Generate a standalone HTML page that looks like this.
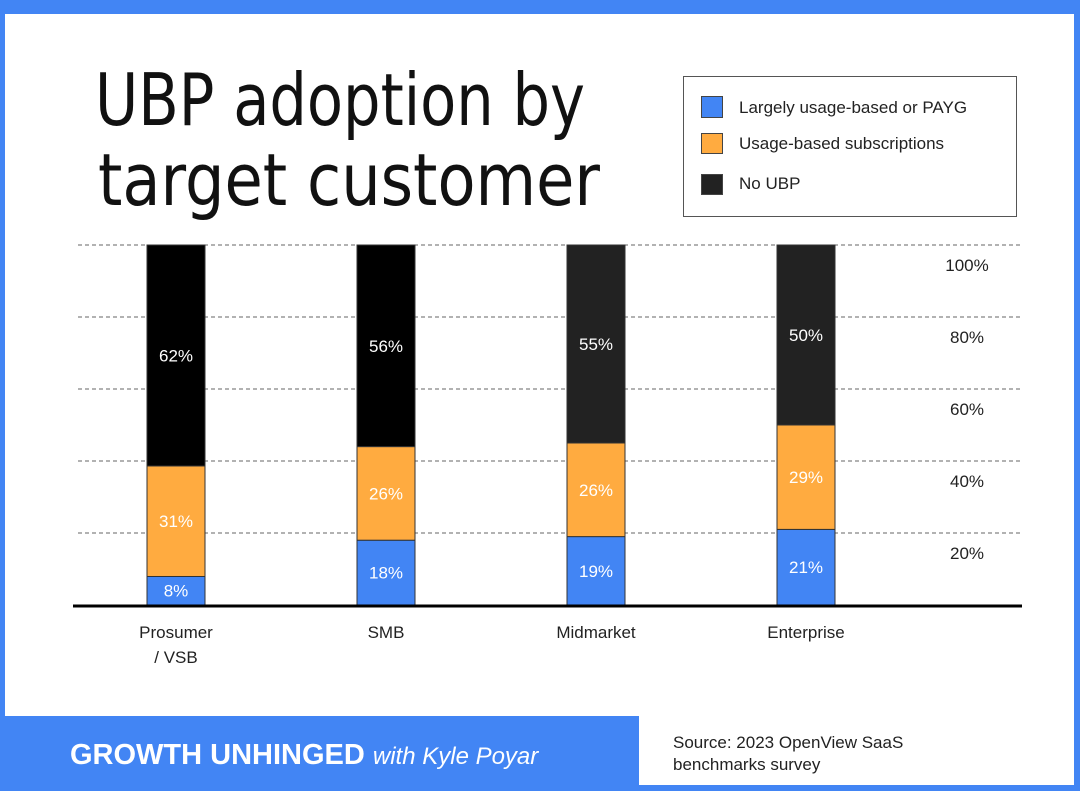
<!DOCTYPE html>
<html><head><meta charset="utf-8"><style>
body{margin:0;width:1080px;height:791px;overflow:hidden;font-family:"Liberation Sans",sans-serif;}
</style></head><body>
<svg width="1080" height="791" xmlns="http://www.w3.org/2000/svg">
<rect x="0" y="0" width="1080" height="791" fill="#4285f4"/>
<rect x="5" y="14" width="1069" height="702" fill="#fff"/>
<rect x="639" y="716" width="435" height="69" fill="#fff"/>
<text x="95" y="125" font-size="72" fill="#111" textLength="490" lengthAdjust="spacingAndGlyphs" style="font-family:'DejaVu Sans',sans-serif">UBP adoption by</text>
<text x="98" y="205" font-size="72" fill="#111" textLength="502" lengthAdjust="spacingAndGlyphs" style="font-family:'DejaVu Sans',sans-serif">target customer</text>
<g>
<rect x="683.5" y="76.5" width="333" height="140" fill="#fff" stroke="#555"/>
<rect x="701.5" y="96.5" width="21" height="21" fill="#4285f4" stroke="#444"/>
<text x="739" y="113" font-size="17" fill="#222">Largely usage-based or PAYG</text>
<rect x="701.5" y="133.5" width="21" height="20" fill="#ffab40" stroke="#444"/>
<text x="739" y="149" font-size="17" fill="#222">Usage-based subscriptions</text>
<rect x="701.5" y="174.5" width="21" height="20" fill="#222" stroke="#444"/>
<text x="739" y="189" font-size="17" fill="#222">No UBP</text>
</g>
<g id="plot"></g>
<rect x="5" y="716" width="634" height="75" fill="#4285f4"/>
<text x="70" y="764" font-size="29" font-weight="bold" fill="#fff">GROWTH UNHINGED <tspan font-size="24" font-weight="normal" font-style="italic">with Kyle Poyar</tspan></text>
<text x="673" y="748" font-size="17" fill="#222">Source: 2023 OpenView SaaS</text>
<text x="673" y="770" font-size="17" fill="#222">benchmarks survey</text>
</svg>
<script>
const categories = ["Prosumer\n/ VSB", "SMB", "Midmarket", "Enterprise"];
const payg = [8, 18, 19, 21];
const subs = [31, 26, 26, 29];
const noUbp = [62, 56, 55, 50];
const ticks = [20, 40, 60, 80, 100];
const ticksLabels = ["20%", "40%", "60%", "80%", "100%"];

const NS = "http://www.w3.org/2000/svg";
const g = document.getElementById("plot");
const y0 = 605, yTop = 245;
const yScale = v => y0 - (v / 100) * (y0 - yTop);
const xScale = i => 176 + i * 210;
function mk(tag, attrs) { const e = document.createElementNS(NS, tag); for (const k in attrs) e.setAttribute(k, attrs[k]); g.appendChild(e); return e; }

ticks.forEach((t, i) => {
  const y = yScale(t);
  const l = mk("line", { x1: 78, x2: 1020, y1: y, y2: y, stroke: "#666", "stroke-dasharray": "4 3", "stroke-width": 1 });
  
  
  const tx = mk("text", { x: 967, y: y + 26, "font-size": 17, fill: "#222", "text-anchor": "middle" });
  tx.textContent = ticksLabels[i];
  
  
});

const series = [
  { vals: payg, color: "#4285f4", name: "payg" },
  { vals: subs, color: "#ffab40", name: "subscriptions" },
  { vals: noUbp, color: null, name: "no-ubp" }
];
categories.forEach((c, i) => {
  const total = payg[i] + subs[i] + noUbp[i];
  let acc = 0;
  const cx = xScale(i);
  series.forEach(s => {
    const v = s.vals[i];
    const yb = yScale(acc / total * 100), yt = yScale((acc + v) / total * 100);
    const col = s.color || (i < 2 ? "#000" : "#222");
    const r = mk("rect", { x: cx - 29, y: yt, width: 58, height: yb - yt, fill: col, stroke: "#333", "stroke-width": 1 });
    
    
    const t = mk("text", { x: cx, y: (yt + yb) / 2 + 6, "font-size": 17, fill: "#fff", "text-anchor": "middle" });
    t.textContent = v + "%";
    
    
    acc += v;
  });
  const lines = c.split("\n");
  lines.forEach((ln, k) => {
    const t = mk("text", { x: cx, y: 638 + k * 25, "font-size": 17, fill: "#222", "text-anchor": "middle" });
    t.textContent = ln;
    
    
  });
});
const base = mk("line", { x1: 73, x2: 1022, y1: y0 + 1, y2: y0 + 1, stroke: "#000", "stroke-width": 3 });


</script>
</body></html>
